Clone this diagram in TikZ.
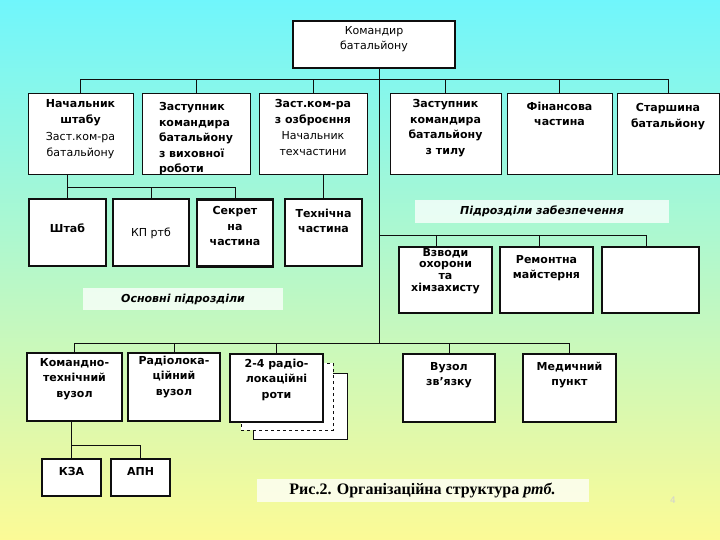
\documentclass[tikz,border=0pt]{standalone}
\usepackage{fontspec}
\setmainfont{DejaVu Sans}
\newfontfamily\capfont{Liberation Serif}
\usetikzlibrary{positioning,calc}
\definecolor{bgTop}{RGB}{112,246,252}
\definecolor{bgBot}{RGB}{252,250,150}
\definecolor{wireInk}{RGB}{15,15,15}

\begin{document}
\begin{tikzpicture}[
  x=1pt, y=-1pt,
  font=\fontsize{11}{15.5}\selectfont,
  box/.style  ={draw=wireInk, line width=.8pt, fill=white, inner sep=0pt},
  hbox/.style ={box, line width=2.4pt},
  back/.style ={box, line width=.7pt},
  lbl/.style  ={anchor=north, align=center, inner sep=0pt, yshift=-5pt},
  blbl/.style ={lbl, font=\fontsize{11}{15.5}\selectfont\bfseries},
  tag/.style  ={fill=white, fill opacity=.75, text opacity=1, inner sep=0pt,
                font=\fontsize{11}{13}\selectfont\bfseries\itshape},
  wire/.style ={draw=wireInk, line width=.8pt},
]
\useasboundingbox (0,0) rectangle (720,540);
\shade[top color=bgTop, bottom color=bgBot] (0,0) rectangle (720,540);

% ================= COMMANDER =================
\node[hbox, minimum width=162pt, minimum height=47pt,
      label={[lbl,yshift=-1pt]north:{Командир\\батальйону}}] (cmd) at (374,44.5) {};

% ================= TOP ROW =================
\node[box, minimum width=105pt, minimum height=81pt,
      label={[lbl,yshift=-2pt]north:{\textbf{Начальник}\\\textbf{штабу}\\[2pt]Заст.ком-ра\\батальйону}}]
  (nsh) at (80.5,133.5) {};
\node[box, minimum width=108pt, minimum height=81pt,
      label={[blbl,align=left,yshift=-5pt]north:{Заступник\\командира\\батальйону\\з виховної\\роботи}}]
  (zvr) at (196,133.5) {};
\node[box, minimum width=108pt, minimum height=81pt,
      label={[lbl,yshift=-2pt]north:{\textbf{Заст.ком-ра}\\\textbf{з озброєння}\\[1pt]Начальник\\техчастини}}]
  (zoz) at (313,133.5) {};
\node[box, minimum width=111pt, minimum height=81pt,
      label={[blbl,yshift=-2pt]north:{Заступник\\командира\\батальйону\\з тилу}}]
  (zty) at (445.5,133.5) {};
\node[box, minimum width=105pt, minimum height=81pt,
      label={[blbl,yshift=-4pt]north:{Фінансова\\частина}}]
  (fin) at (559.5,133.5) {};
\node[box, minimum width=102pt, minimum height=81pt,
      label={[blbl,yshift=-6pt]north:{Старшина\\батальйону}}]
  (str) at (668,133.5) {};

% ================= STAFF UNITS =================
\node[hbox, minimum width=77pt, minimum height=67pt,
      label={[blbl,yshift=-21pt]north:Штаб}] (shtab) at (67.5,232.5) {};
\node[hbox, minimum width=76pt, minimum height=67pt,
      label={[lbl,yshift=-25pt]north:КП ртб}] (kp) at (151,232.5) {};
\node[hbox, minimum width=76pt, minimum height=67pt,
      label={[blbl,yshift=-3pt]north:{Секрет\\на\\частина}}] (sek) at (235,233) {};
\node[hbox, minimum width=77pt, minimum height=67pt,
      label={[blbl,yshift=-6pt]north:{Технічна\\частина}}] (tch) at (323.5,232.5) {};

% ================= SUPPORT UNITS =================
\node[tag, minimum width=254pt, minimum height=23pt] (zab) at (542,211.5) {Підрозділи забезпечення};
\node[hbox, minimum width=93pt, minimum height=66pt,
      label={[blbl,yshift=3pt,font=\fontsize{11}{11.7}\selectfont\bfseries]north:{Взводи\\охорони\\та\\хімзахисту}}]
  (vzv) at (445.5,280) {};
\node[hbox, minimum width=93pt, minimum height=66pt,
      label={[blbl,yshift=-4pt]north:{Ремонтна\\майстерня}}] (rem) at (546.5,280) {};
\node[hbox, minimum width=97pt, minimum height=66pt] (emp) at (650.5,280) {};

% ================= MAIN UNITS =================
\node[tag, minimum width=200pt, minimum height=22pt] (osn) at (183,299) {Основні підрозділи};

\node[back, minimum width=94pt, minimum height=66pt] (rr3) at (300,406) {};
\node[back, dashed, minimum width=92pt, minimum height=67pt] (rr2) at (287,396.5) {};

\node[hbox, minimum width=95pt, minimum height=68pt,
      label={[blbl,yshift=-1pt]north:{Командно-\\технічний\\вузол}}] (knt) at (74.5,387) {};
\node[hbox, minimum width=92pt, minimum height=68pt,
      label={[blbl,yshift=1pt]north:{Радіолока-\\ційний\\вузол}}] (rlv) at (174,387) {};
\node[hbox, minimum width=93pt, minimum height=68pt,
      label={[blbl,yshift=-1pt]north:{2-4 радіо-\\локаційні\\роти}}] (rr) at (276.5,388) {};
\node[hbox, minimum width=92pt, minimum height=68pt,
      label={[blbl,yshift=-4pt]north:{Вузол\\зв'язку}}] (vz) at (449,388) {};
\node[hbox, minimum width=93pt, minimum height=68pt,
      label={[blbl,yshift=-4pt]north:{Медичний\\пункт}}] (med) at (569.5,388) {};

\node[hbox, minimum width=59pt, minimum height=37pt,
      label={[blbl,yshift=-4pt]north:КЗА}] (kza) at (71.5,477.5) {};
\node[hbox, minimum width=59pt, minimum height=37pt,
      label={[blbl,yshift=-4pt]north:АПН}] (apn) at (140.5,477.5) {};

% ================= CAPTION =================
\node[tag, minimum width=332pt, minimum height=23pt, font=\capfont\bfseries\fontsize{16}{18}\selectfont]
  (cap) at (422.5,490.5) {Рис.2. Організаційна структура \textit{ртб.}};
\node[text=black!18, font=\fontsize{9}{10}\selectfont] (pg) at (673,500) {4};

% ================= CONNECTORS =================
\coordinate (busT)  at (0,79);
\coordinate (bus2)  at (0,187);
\coordinate (busS)  at (0,235);
\coordinate (trunk) at (379,343);
\coordinate (busK)  at (0,445);

\draw[wire] (cmd.south -| trunk) -- (trunk);
\draw[wire] (nsh.north) |- (str.north |- busT) -- (str.north);
\draw[wire] (zvr.north) -- (zvr.north |- busT);
\draw[wire] (zoz.north) -- (zoz.north |- busT);
\draw[wire] (zty.north) -- (zty.north |- busT);
\draw[wire] (fin.north) -- (fin.north |- busT);

\draw[wire] (nsh.south -| shtab.north) -- (shtab.north);
\draw[wire] (shtab.north |- bus2) -| (sek.north);
\draw[wire] (kp.north) -- (kp.north |- bus2);
\draw[wire] (zoz.south -| tch.north) -- (tch.north);

\draw[wire] (trunk |- busS) -| ([xshift=-4pt]emp.north);
\draw[wire] ([xshift=-9pt]vzv.north) -- ([xshift=-9pt]vzv.north |- busS);
\draw[wire] ([xshift=-7pt]rem.north) -- ([xshift=-7pt]rem.north |- busS);

\draw[wire] (knt.north) |- (med.north |- trunk) -- (med.north);
\draw[wire] (rlv.north) -- (rlv.north |- trunk);
\draw[wire] (rr.north) -- (rr.north |- trunk);
\draw[wire] (vz.north) -- (vz.north |- trunk);

\draw[wire] (knt.south -| kza.north) -- (kza.north);
\draw[wire] (kza.north |- busK) -| (apn.north);

\end{tikzpicture}
\end{document}
